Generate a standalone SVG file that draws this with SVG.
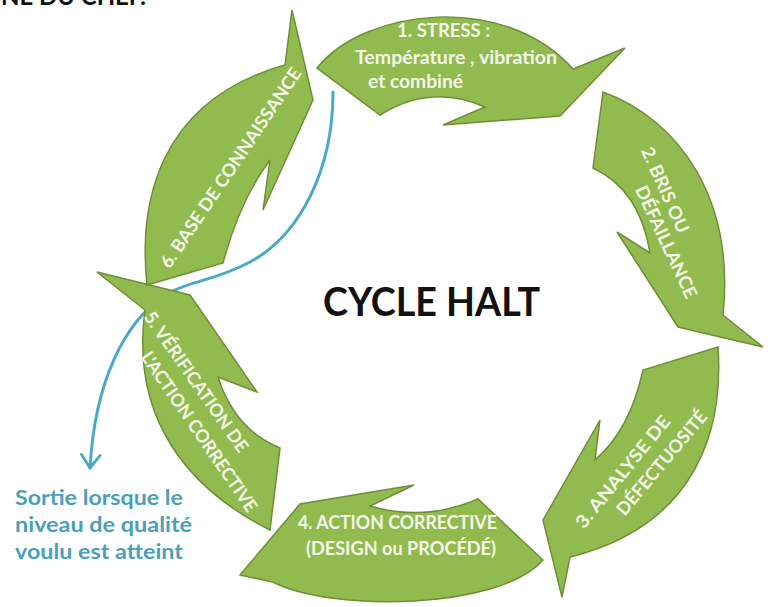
<svg xmlns="http://www.w3.org/2000/svg" width="771" height="607" viewBox="0 0 771 607">
<defs>
<style>
.arr{fill:#92bb4f;stroke:#6e8e37;stroke-width:1.5;stroke-linejoin:miter}
.lbl{font-family:Lato,"Liberation Sans",sans-serif;font-weight:700;font-size:18px;fill:#f3f7ea;text-anchor:middle}
.title{font-family:Lato,"Liberation Sans",sans-serif;font-weight:700;font-size:40px;fill:#111}
.exit{font-family:Lato,"Liberation Sans",sans-serif;font-weight:700;font-size:21px;fill:#4b9fbd}
.conn{fill:none;stroke:#4aa9c9;stroke-width:3;stroke-linecap:round}
</style>
<marker id="ah" markerUnits="userSpaceOnUse" markerWidth="30" markerHeight="30" viewBox="-16 -16 32 32" refX="0" refY="0" orient="auto">
<path d="M-14,-10 L0,0 L-14,10" fill="none" stroke="#4aa9c9" stroke-width="3" stroke-linecap="round" stroke-linejoin="round"/>
</marker>
</defs>
<rect width="771" height="607" fill="#fff"/>
<text x="1" y="5" style="font-family:Lato,'Liberation Sans',sans-serif;font-weight:700;font-size:24px;fill:#111" textLength="145" lengthAdjust="spacingAndGlyphs">NE DU CHEF.</text>

<g id="connectors">
<path class="conn" d="M333,92 C333,170 300,235 250,262 C215,281 185,282 165,295 C125,322 95,380 90,468" marker-end="url(#ah)"/>
</g>

<g id="node1">
<path class="arr" d="M317,68 C365,8 505,-8 573,69 L625,48 L560,116 L443,125 L485,107 Q431,83 380,115 Z"/>
<text class="lbl" x="443.5" y="37" textLength="93" lengthAdjust="spacingAndGlyphs">1. STRESS :</text>
<text class="lbl" x="456" y="64" textLength="202" lengthAdjust="spacingAndGlyphs">Température , vibration</text>
<text class="lbl" x="415.5" y="88" textLength="95" lengthAdjust="spacingAndGlyphs">et combiné</text>
</g>

<g id="node2">
<path class="arr" d="M603,92 C680,120 735,200 723,315 L763,347 L678,327 L617,232 L650,253 Q640,190 593,168 Z"/>
<text class="lbl" transform="translate(665,190) rotate(66)" y="6" textLength="92" lengthAdjust="spacingAndGlyphs">2. BRIS OU</text>
<text class="lbl" transform="translate(666,242) rotate(65)" y="6" textLength="122" lengthAdjust="spacingAndGlyphs">DÉFAILLANCE</text>
</g>

<g id="node3">
<path class="arr" d="M718,347 C725,450 680,530 570,557 L562,597 L543,520 L600,420 L595,460 Q630,430 643,370 Z"/>
<text class="lbl" transform="translate(623,472) rotate(-51)" y="6" textLength="139" lengthAdjust="spacingAndGlyphs">3. ANALYSE DE</text>
<text class="lbl" transform="translate(662,463) rotate(-50)" y="6" textLength="130" lengthAdjust="spacingAndGlyphs">DÉFECTUOSITÉ</text>
</g>

<g id="node4">
<path class="arr" d="M543,560 C500,610 330,612 273,582 L240,575 L300,504 L414,485 L370,506 Q425,522 478,499 Z"/>
<text class="lbl" x="397.5" y="529" textLength="199" lengthAdjust="spacingAndGlyphs">4. ACTION CORRECTIVE</text>
<text class="lbl" x="401" y="555" textLength="190" lengthAdjust="spacingAndGlyphs">(DESIGN ou PROCÉDÉ)</text>
</g>

<g id="node5">
<path class="arr" d="M270,530 C190,490 130,420 145,310 L97,272 L190,295 L257,392 L218,377 Q235,430 280,448 Z"/>
<text class="lbl" transform="translate(196,382) rotate(55)" y="6" textLength="167" lengthAdjust="spacingAndGlyphs">5. VÉRIFICATION DE</text>
<text class="lbl" transform="translate(199,432) rotate(55.5)" y="6" textLength="190" lengthAdjust="spacingAndGlyphs">L'ACTION CORRECTIVE</text>
</g>

<g id="node6">
<path class="arr" d="M147,285 C138,200 160,100 285,65 L292,10 L313,100 L263,210 L270,160 Q240,200 223,263 Z"/>
<text class="lbl" transform="translate(231,168) rotate(-56)" y="6" textLength="237" lengthAdjust="spacingAndGlyphs">6. BASE DE CONNAISSANCE</text>
</g>

<g id="center">
<text class="title" x="323" y="316" textLength="217" lengthAdjust="spacingAndGlyphs">CYCLE HALT</text>
</g>

<g id="exit">
<text class="exit" x="15" y="505" textLength="168" lengthAdjust="spacingAndGlyphs">Sortie lorsque le</text>
<text class="exit" x="15" y="532" textLength="177" lengthAdjust="spacingAndGlyphs">niveau de qualité</text>
<text class="exit" x="15" y="559" textLength="168" lengthAdjust="spacingAndGlyphs">voulu est atteint</text>
</g>
</svg>
